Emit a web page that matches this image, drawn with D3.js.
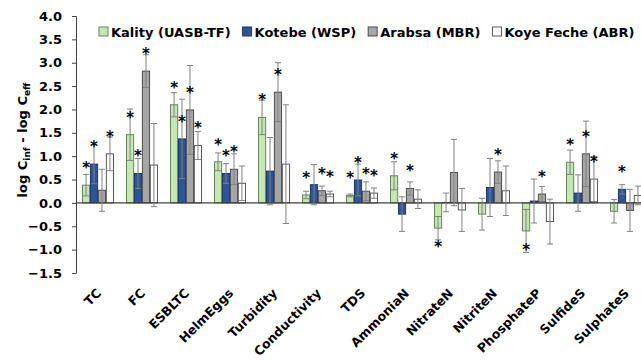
<!DOCTYPE html>
<html>
<head>
<meta charset="utf-8">
<script src="https://cdn.jsdelivr.net/npm/d3@7"></script>
<style>
  body { margin: 0; background: #ffffff; }
  svg { display: block; font-family: "DejaVu Sans", sans-serif; font-weight: bold; }
</style>
</head>
<body>
<svg id="chart"></svg>
<script>
// categories on the x axis
const categories = ["TC", "FC", "ESBLTC", "HelmEggs", "Turbidity", "Conductivity", "TDS",
  "AmmoniaN", "NitrateN", "NitriteN", "PhosphateP", "SulfideS", "SulphateS"];

const seriesNames = ["Kality (UASB-TF)", "Kotebe (WSP)", "Arabsa (MBR)", "Koye Feche (ABR)"];

// log reduction values
const kality = [0.38, 1.46, 2.10, 0.88, 1.83, 0.17, 0.16, 0.58, -0.54, -0.24, -0.60, 0.87, -0.18];
const kotebe = [0.83, 0.63, 1.37, 0.63, 0.68, 0.39, 0.49, -0.24, 0.01, 0.33, 0.04, 0.21, 0.29];
const arabsa = [0.27, 2.82, 1.99, 0.72, 2.37, 0.26, 0.25, 0.31, 0.65, 0.66, 0.19, 1.05, -0.16];
const koye   = [1.05, 0.81, 1.23, 0.42, 0.83, 0.19, 0.21, 0.08, -0.15, 0.26, -0.40, 0.51, 0.16];

// error bars (+/-)
const kalityErr = [0.23, 0.55, 0.26, 0.19, 0.37, 0.08, 0.03, 0.30, 0.25, 0.34, 0.46, 0.26, 0.25];
const kotebeErr = [0.42, 0.32, 0.85, 0.21, 0.72, 0.43, 0.34, 0.37, 0.20, 0.62, 0.47, 0.39, 0.10];
const arabsaErr = [0.45, 0.35, 0.95, 0.33, 0.63, 0.10, 0.20, 0.14, 0.71, 0.24, 0.16, 0.70, 0.45];
const koyeErr   = [0.36, 0.89, 0.30, 0.37, 1.27, 0.06, 0.11, 0.20, 0.46, 0.53, 0.48, 0.48, 0.20];

// significance stars (1 = *)
const kalitySig = [1, 1, 1, 1, 1, 1, 1, 1, 1, 0, 1, 1, 0];
const kotebeSig = [1, 1, 1, 1, 0, 0, 1, 0, 0, 0, 0, 0, 1];
const arabsaSig = [0, 1, 1, 1, 1, 1, 1, 1, 0, 1, 1, 1, 0];
const koyeSig   = [1, 0, 1, 0, 0, 1, 1, 0, 0, 0, 0, 1, 0];

const yTicks = [-1.5, -1.0, -0.5, 0.0, 0.5, 1.0, 1.5, 2.0, 2.5, 3.0, 3.5, 4.0];

const fills = ["#c6e7b5", "#2e5599", "#a6a6a6", "#ffffff"];
const strokes = ["#5f8a50", "#1c3566", "#4d4d4d", "#595959"];

const values = [kality, kotebe, arabsa, koye];
const errs = [kalityErr, kotebeErr, arabsaErr, koyeErr];
const sigs = [kalitySig, kotebeSig, arabsaSig, koyeSig];

// flat table for the bars
const rows = [];
categories.forEach((c, i) => {
  seriesNames.forEach((s, j) => {
    rows.push({ cat: c, series: s, idx: j, value: values[j][i], err: errs[j][i], sig: sigs[j][i] });
  });
});

const width = 641;
const height = 360;

const svg = d3.select("#chart")
  .attr("width", width)
  .attr("height", height);

const x = d3.scaleBand()
  .domain(categories)
  .range([76, 648]);

const xs = d3.scaleBand()
  .domain(seriesNames)
  .range([6.5, 37.5])
  .paddingInner(0.1);

const y = d3.scaleLinear()
  .domain([-1.5, 4])
  .range([273, 16]);

// y axis
const yAxis = svg.append("g")
  .attr("transform", "translate(76,0)")
  .call(d3.axisLeft(y).tickValues(yTicks).tickFormat(d3.format(".1f")).tickSizeOuter(0).tickSize(4));
yAxis.select(".domain").attr("stroke", "#404040");
yAxis.selectAll(".tick line").attr("stroke", "#404040");
yAxis.selectAll("text")
  .attr("x", -14)
  .style("font-family", "DejaVu Sans")
  .style("font-weight", "bold")
  .style("font-size", "13px")
  .attr("fill", "#000");

// bars
const bar = svg.append("g");
bar.selectAll("rect")
  .data(rows)
  .enter().append("rect")
  .attr("x", d => x(d.cat) + xs(d.series))
  .attr("width", xs.bandwidth())
  .attr("y", d => y(Math.max(0, d.value)))
  .attr("height", d => Math.abs(y(d.value) - y(0)))
  .attr("fill", d => fills[d.idx])
  .attr("stroke", d => strokes[d.idx])
  .attr("stroke-width", 1);

// zero line
svg.append("line")
  .attr("x1", x.range()[0]).attr("x2", x.range()[1])
  .attr("y1", y(0)).attr("y2", y(0))
  .attr("stroke", "#404040")
  .attr("stroke-width", 1.2);

// error bars
const eb = svg.append("g").attr("stroke", "#808080").attr("stroke-width", 1);
rows.forEach(d => {
  const cx = x(d.cat) + xs(d.series) + xs.bandwidth() / 2;
  eb.append("line").attr("x1", cx).attr("x2", cx)
    .attr("y1", y(d.value - d.err)).attr("y2", y(d.value + d.err));
  [d.value - d.err, d.value + d.err].forEach(v => {
    eb.append("line").attr("x1", cx - 3).attr("x2", cx + 3)
      .attr("y1", y(v)).attr("y2", y(v));
  });
});

// significance stars
svg.append("g").selectAll("text")
  .data(rows.filter(d => d.sig))
  .enter().append("text")
  .attr("x", d => x(d.cat) + xs(d.series) + xs.bandwidth() / 2)
  .attr("y", d => d.value >= 0 ? y(d.value) - 20 + 8 : y(d.value) + 16 + 8)
  .attr("text-anchor", "middle")
  .style("font-size", "15px")
  .attr("fill", "#000")
  .text("*");

// x labels
svg.append("g").selectAll("text")
  .data(categories)
  .enter().append("text")
  .attr("transform", d => `translate(${x(d) + x.bandwidth() / 2 + 4},294) rotate(-45)`)
  .attr("text-anchor", "end")
  .style("font-size", "12.5px")
  .attr("fill", "#000")
  .text(d => d);

// y title
const yt = svg.append("text")
  .attr("transform", "translate(27,140) rotate(-90)")
  .attr("text-anchor", "middle")
  .style("font-size", "13px")
  .attr("fill", "#000");
yt.append("tspan").text("log C");
yt.append("tspan").attr("dy", 3).style("font-size", "9px").text("inf");
yt.append("tspan").attr("dy", -3).text(" - log C");
yt.append("tspan").attr("dy", 3).style("font-size", "9px").text("eff");

// legend
const legend = svg.append("g");
let lx = 99;
seriesNames.forEach((s, j) => {
  legend.append("rect")
    .attr("x", lx).attr("y", 27)
    .attr("width", 9).attr("height", 9)
    .attr("fill", fills[j])
    .attr("stroke", strokes[j]);
  const t = legend.append("text")
    .attr("x", lx + 12).attr("y", 37)
    .style("font-size", "13px")
    .attr("fill", "#000")
    .text(s);
  lx += 12 + t.node().getComputedTextLength() + 12;
});
</script>
</body>
</html>
